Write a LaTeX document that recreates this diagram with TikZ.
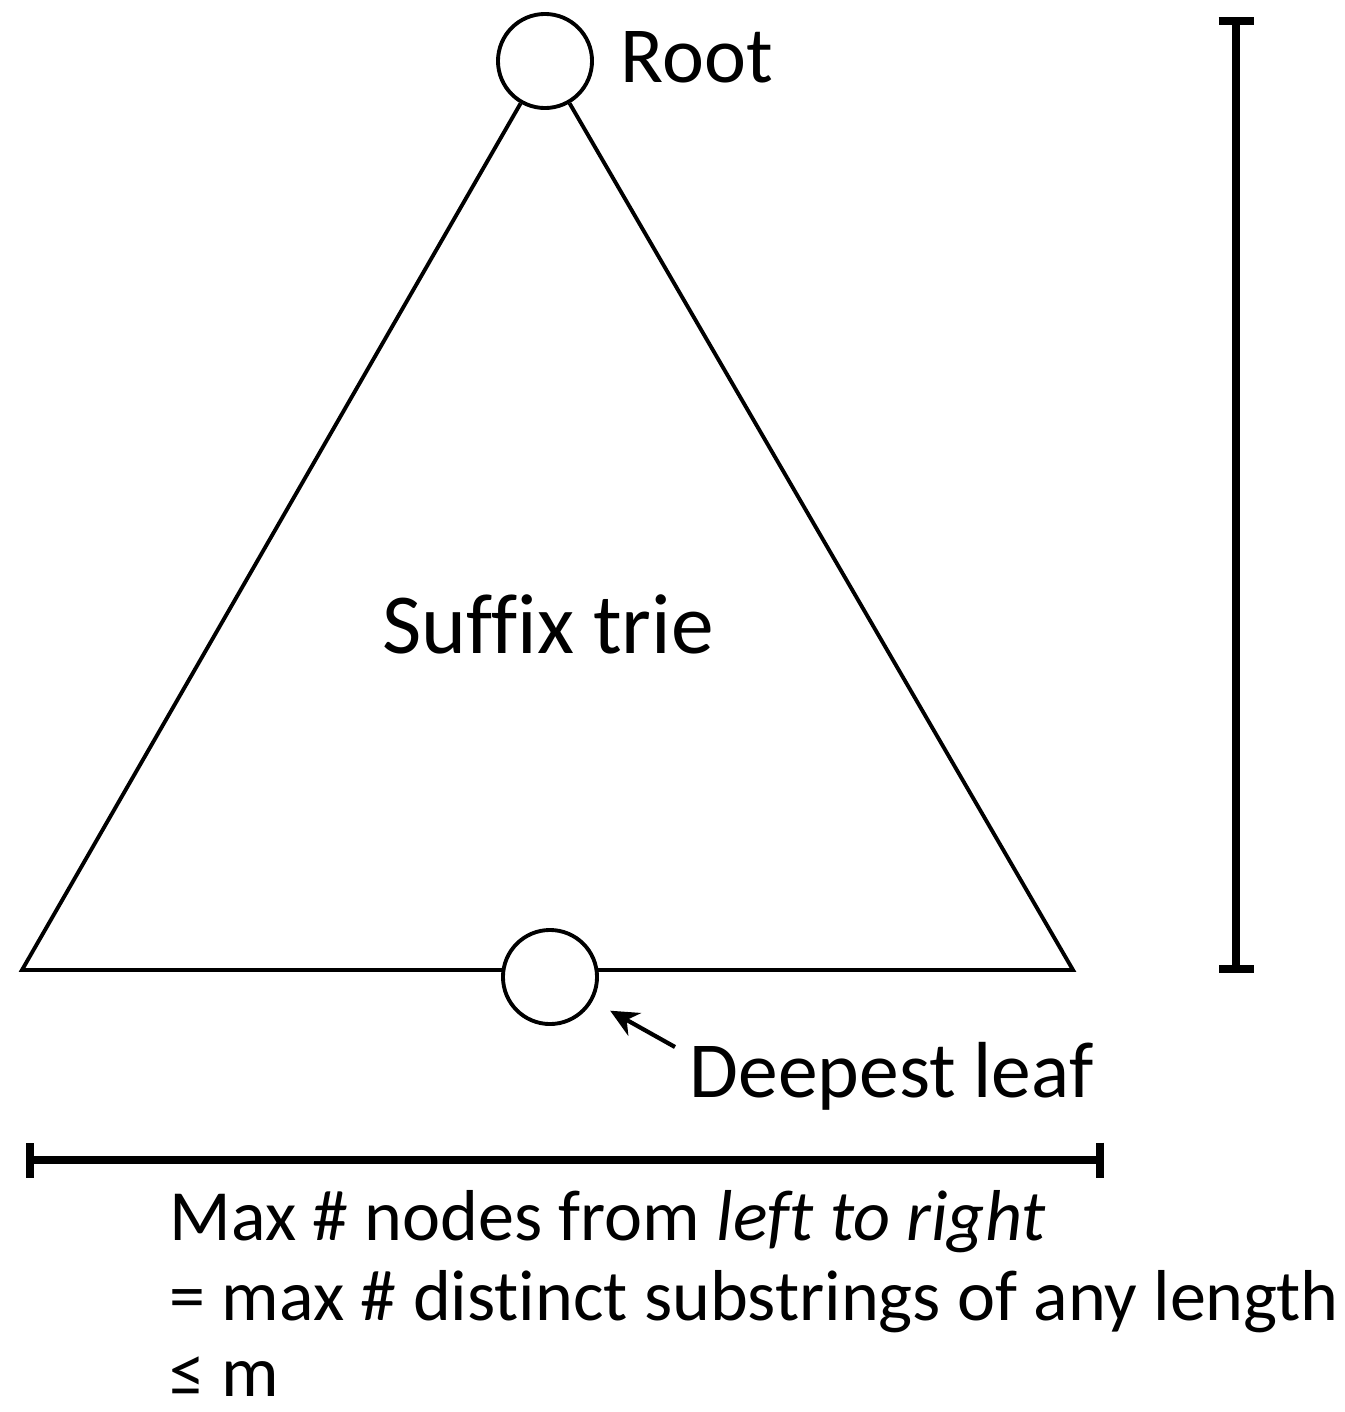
\documentclass[tikz,border=0pt]{standalone}
\usepackage{fontspec}
\setmainfont[Ligatures=NoCommon]{Carlito}
\usetikzlibrary{positioning, arrows.meta}

\begin{document}
\begin{tikzpicture}[
    x=0.01cm, y=-0.01cm,
    every node/.style={font=\fontsize{22.6}{27}\selectfont},
    vert/.style={circle, draw, line width=1.1pt, minimum size=0.94cm, inner sep=0pt},
    lbl/.style={inner sep=0pt},
    title/.style={inner sep=0pt, font=\fontsize{24.3}{29}\selectfont},
    note/.style={inner sep=0pt, font=\fontsize{20.5}{24}\selectfont},
    edge/.style={line width=1.1pt, line join=miter},
    span/.style={line width=2.3pt, {Bar[width=0.35cm]}-{Bar[width=0.35cm]}},
    arrow/.style={-{Stealth[length=0.28cm, width=0.26cm]}, line width=1.2pt}]

  \useasboundingbox (0,0) rectangle (1344,1412);

  \node[vert] (root) at (545,61) {};
  \coordinate (bl) at (22,970);
  \coordinate (br) at (1073,970);
  \draw[edge] (root) -- (bl) -- (br) -- (root);
  \node[vert, fill=white] (leaf) at (550,977) {};

  \node[lbl, anchor=base west] (rootlbl) at (620,82) {Root};
  \node[title, anchor=base] (trie) at (548,653) {Suffix trie};
  \node[lbl, anchor=base west] (deep) at (689,1097) {Deepest leaf};

  \coordinate (tail) at (675,1047);
  \draw[arrow, shorten >=0.2cm] (tail) -- (leaf);

  \coordinate (htop) at (1236,17);
  \coordinate (hbot) at (1236,973);
  \draw[span] (htop) -- (hbot);

  \coordinate (wleft) at (26,1160);
  \coordinate (wright) at (1104,1160);
  \draw[span] (wleft) -- (wright);

  \node[note, anchor=base west] (sumA) at (169,1240) {Max \# nodes from \textit{left to right}};
  \node[note, anchor=base west] (sumB) at (169,1320) {= max \# distinct substrings of any length};
  \node[note, anchor=base west] (sumC) at (169,1396) {≤ m};
\end{tikzpicture}
\end{document}
